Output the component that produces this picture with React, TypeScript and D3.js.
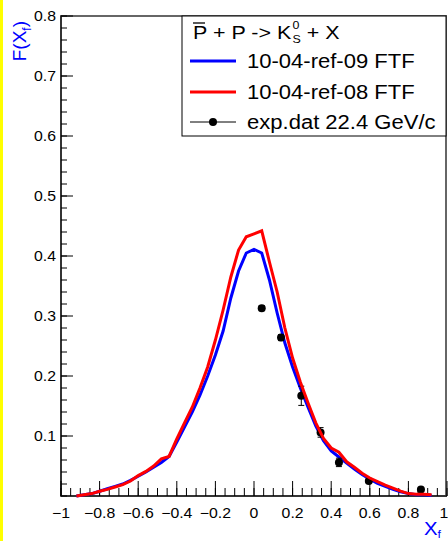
import React from "react";
import * as d3 from "d3";

// bin centres of the two FTF histograms
const xBins = [
  -0.92, -0.88, -0.84, -0.8, -0.76, -0.72, -0.68, -0.64, -0.6, -0.56, -0.52, -0.48,
  -0.44, -0.4, -0.36, -0.32, -0.28, -0.24, -0.2, -0.16, -0.12, -0.08, -0.04, 0.0,
  0.04, 0.08, 0.12, 0.16, 0.2, 0.24, 0.28, 0.32, 0.36, 0.4, 0.44, 0.48, 0.52, 0.56,
  0.6, 0.64, 0.68, 0.72, 0.76, 0.8, 0.84, 0.88, 0.92,
];
const ref09 = [
  0.0, 0.002, 0.004, 0.008, 0.012, 0.016, 0.02, 0.026, 0.033, 0.04, 0.048, 0.056,
  0.066, 0.09, 0.115, 0.14, 0.168, 0.2, 0.235, 0.275, 0.33, 0.375, 0.405, 0.411,
  0.405, 0.36, 0.305, 0.255, 0.215, 0.18, 0.148, 0.117, 0.092, 0.075, 0.065, 0.055,
  0.045, 0.036, 0.028, 0.021, 0.016, 0.011, 0.007, 0.004, 0.002, 0.002, 0.001,
];
const ref08 = [
  0.0, 0.002, 0.004, 0.008, 0.011, 0.015, 0.019, 0.025, 0.034, 0.041, 0.05, 0.062,
  0.066, 0.095, 0.122, 0.148, 0.18, 0.215, 0.26, 0.31, 0.365, 0.41, 0.432, 0.437,
  0.442, 0.39, 0.34, 0.28, 0.23, 0.19, 0.155, 0.122, 0.096, 0.08, 0.073, 0.057,
  0.048, 0.038, 0.03, 0.024, 0.018, 0.013, 0.008, 0.004, 0.003, 0.003, 0.002,
];

// experimental points
const expX = [0.04, 0.14, 0.245, 0.345, 0.44, 0.595, 0.865];
const expY = [0.313, 0.264, 0.167, 0.106, 0.056, 0.025, 0.011];
const expErr = [0.004, 0.005, 0.016, 0.008, 0.007, 0.003, 0.003];

const xTickLabels = ["−1", "−0.8", "−0.6", "−0.4", "−0.2", "0", "0.2", "0.4", "0.6", "0.8", "1"];
const yTickLabels = ["0.1", "0.2", "0.3", "0.4", "0.5", "0.6", "0.7", "0.8"];

const W = 448;
const H = 541;
const left = 61, right = 447, top = 16, bottom = 496;
const font = "Liberation Sans, Arial, Helvetica, sans-serif";
const sx = 1.13; // the picture is a bit stretched sideways

export default function App() {
  const x = d3.scaleLinear().domain([-1, 1]).range([left, right]);
  const y = d3.scaleLinear().domain([0, 0.8]).range([bottom, top]);

  const line = d3
    .line<number>()
    .x((_, i) => x(xBins[i]))
    .y((d) => y(d));

  const xMajor = xTickLabels.map((_, i) => -1 + 0.2 * i);
  const xMinor = d3.range(41).map((i) => -1 + 0.05 * i);
  const yMajor = yTickLabels.map((_, i) => 0.1 * (i + 1));
  const yMinor = d3.range(41).map((i) => 0.02 * i);

  const txt = (tx: number, ty: number, s: string, size: number, anchor = "start", fill = "#000") => (
    <text
      transform={`translate(${tx},${ty}) scale(${sx},1)`}
      fontSize={size}
      textAnchor={anchor}
      fill={fill}
      fontFamily={font}
    >
      {s}
    </text>
  );

  return (
    <svg width={W} height={H} style={{ position: "absolute", left: 0, top: 0, background: "#fff" }}>
      <rect x={0} y={0} width={W} height={H} fill="#fff" />
      <rect x={0} y={0} width={3} height={H} fill="#ffff00" />

      {/* frame */}
      <rect x={left} y={top} width={right - left - 1} height={bottom - top} fill="none" stroke="#666" strokeWidth={2} />
      <line x1={left} x2={left} y1={top} y2={bottom} stroke="#000" />
      <line x1={left} x2={right} y1={bottom} y2={bottom} stroke="#000" />

      {/* ticks */}
      {xMinor.map((v, i) => (
        <line key={"xm" + i} x1={x(v)} x2={x(v)} y1={bottom} y2={bottom - 8} stroke="#000" />
      ))}
      {xMajor.map((v, i) => (
        <line key={"xM" + i} x1={x(v)} x2={x(v)} y1={bottom} y2={bottom - 15} stroke="#000" />
      ))}
      {yMinor.map((v, i) => (
        <line key={"ym" + i} x1={left} x2={left + 6} y1={y(v)} y2={y(v)} stroke="#000" />
      ))}
      {yMajor.map((v, i) => (
        <line key={"yM" + i} x1={left} x2={left + 12} y1={y(v)} y2={y(v)} stroke="#000" />
      ))}

      {xMajor.map((v, i) => (
        <g key={"xl" + i}>{txt(Math.min(x(v), 444), 518, xTickLabels[i], 14, "middle")}</g>
      ))}
      {yMajor.map((v, i) => (
        <g key={"yl" + i}>{txt(56, y(v) + 5, yTickLabels[i], 14, "end")}</g>
      ))}

      {/* axis titles */}
      <text transform={`translate(26,21) rotate(-90)`} fontSize={19} textAnchor="end" fill="#0000ff" fontFamily={font}>
        F(X<tspan fontSize={12} dy={5}>f</tspan><tspan dy={-5}>)</tspan>
      </text>
      <text transform={`translate(441,535) scale(${sx},1)`} fontSize={18} textAnchor="end" fill="#0000ff" fontFamily={font}>
        X<tspan fontSize={11} dy={3}>f</tspan>
      </text>

      {/* curves */}
      <path d={line(ref09) || ""} fill="none" stroke="#0000ff" strokeWidth={3} />
      {expX.map((v, i) => (
        <g key={"e" + i}>
          <line x1={x(v)} x2={x(v)} y1={y(expY[i] - expErr[i])} y2={y(expY[i] + expErr[i])} stroke="#000" />
          <line x1={x(v) - 3} x2={x(v) + 3} y1={y(expY[i] - expErr[i])} y2={y(expY[i] - expErr[i])} stroke="#000" />
          <line x1={x(v) - 3} x2={x(v) + 3} y1={y(expY[i] + expErr[i])} y2={y(expY[i] + expErr[i])} stroke="#000" />
          <circle cx={x(v)} cy={y(expY[i])} r={4} fill="#000" />
        </g>
      ))}
      <path d={line(ref08) || ""} fill="none" stroke="#ff0000" strokeWidth={3} />

      {/* legend */}
      <rect x={182} y={top} width={right - 1 - 182} height={120} fill="#fff" stroke="#000" />
      <line x1={193} x2={205} y1={23} y2={23} stroke="#000" strokeWidth={1.3} />
      <text transform={`translate(193,39) scale(${sx},1)`} fontSize={19} fontFamily={font}>
        P + P -{">"} K
        <tspan fontSize={11} dx={1} dy={-10}>0</tspan>
        <tspan fontSize={11} dx={-6} dy={14}>S</tspan>
        <tspan fontSize={19} dy={-4}> + X</tspan>
      </text>

      <line x1={190} x2={236} y1={61} y2={61} stroke="#0000ff" strokeWidth={3} />
      {txt(247, 68, "10-04-ref-09 FTF", 19.5)}
      <line x1={190} x2={236} y1={92} y2={92} stroke="#ff0000" strokeWidth={3} />
      {txt(247, 99, "10-04-ref-08 FTF", 19.5)}
      <line x1={190} x2={236} y1={122} y2={122} stroke="#000" />
      <circle cx={213} cy={122} r={4} fill="#000" />
      {txt(247, 129, "exp.dat 22.4 GeV/c", 19.5)}
    </svg>
  );
}
